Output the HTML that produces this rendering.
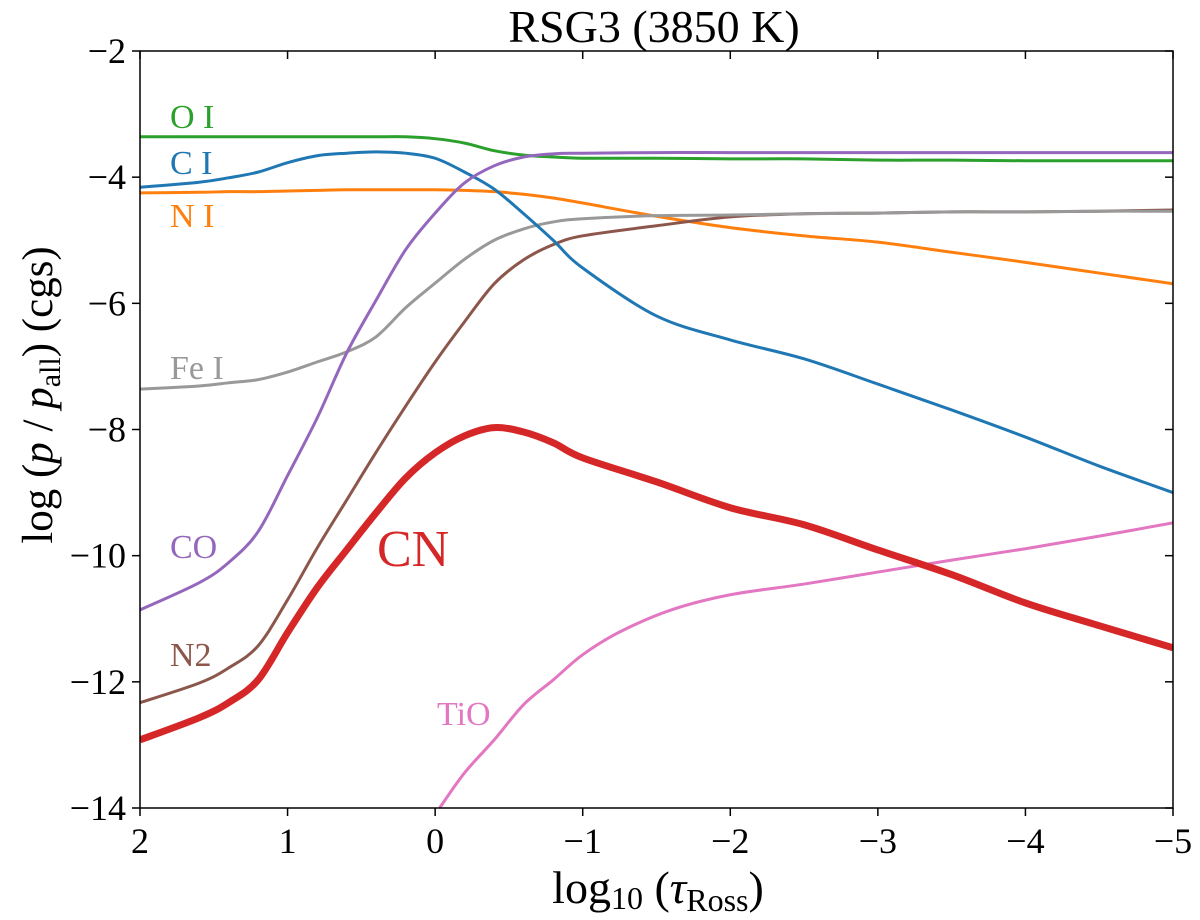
<!DOCTYPE html>
<html><head><meta charset="utf-8">
<style>
body{margin:0;background:#fff;}
svg{display:block;font-family:"Liberation Serif",serif;}
</style></head>
<body>
<svg id="chart" width="1200" height="920">
<text x="654" y="42" font-size="46" text-anchor="middle">RSG3 (3850 K)</text>
<g id="plot"></g>
<text x="658" y="903" font-size="46" text-anchor="middle">log<tspan font-size="32" dy="6">10</tspan><tspan dy="-6"> (</tspan><tspan font-style="italic">τ</tspan><tspan font-size="32" dy="8">Ross</tspan><tspan dy="-8">)</tspan></text>
<text transform="translate(52,395) rotate(-90)" font-size="43" text-anchor="middle">log (<tspan font-style="italic">p</tspan> / <tspan font-style="italic">p</tspan><tspan font-size="30" dy="8">all</tspan><tspan dy="-8">) (cgs)</tspan></text>
</svg>
<script>
const xTicks=[2,1,0,-1,-2,-3,-4,-5];
const yTicks=[-2,-4,-6,-8,-10,-12,-14];
const xs=[2,1.6,1.4,1.2,1,0.8,0.6,0.4,0.2,0,-0.2,-0.4,-0.6,-0.8,-1,-1.5,-2,-2.5,-3,-3.5,-4,-4.5,-5];
const OI=[-3.36,-3.36,-3.36,-3.36,-3.36,-3.36,-3.36,-3.36,-3.36,-3.39,-3.46,-3.58,-3.65,-3.68,-3.7,-3.7,-3.71,-3.71,-3.73,-3.73,-3.74,-3.74,-3.74];
const CI=[-4.16,-4.08,-4.01,-3.92,-3.77,-3.66,-3.62,-3.6,-3.62,-3.7,-3.92,-4.19,-4.58,-5.0,-5.44,-6.2,-6.58,-6.88,-7.28,-7.69,-8.12,-8.58,-9.0];
const NI=[-4.25,-4.24,-4.23,-4.23,-4.22,-4.21,-4.2,-4.2,-4.2,-4.2,-4.21,-4.23,-4.27,-4.33,-4.41,-4.62,-4.8,-4.93,-5.03,-5.19,-5.35,-5.52,-5.69];
const CO=[-10.86,-10.43,-10.11,-9.62,-8.73,-7.82,-6.79,-5.95,-5.15,-4.57,-4.09,-3.82,-3.68,-3.63,-3.62,-3.61,-3.61,-3.61,-3.61,-3.61,-3.61,-3.61,-3.61];
const FeI=[-7.36,-7.31,-7.26,-7.21,-7.09,-6.93,-6.77,-6.53,-6.07,-5.68,-5.3,-5.0,-4.82,-4.71,-4.66,-4.61,-4.6,-4.58,-4.57,-4.55,-4.55,-4.54,-4.54];
const N2=[-12.33,-12.02,-11.78,-11.43,-10.7,-9.88,-9.12,-8.36,-7.63,-6.93,-6.29,-5.69,-5.31,-5.07,-4.93,-4.77,-4.63,-4.58,-4.57,-4.55,-4.55,-4.54,-4.52];
const CN=[-12.92,-12.57,-12.33,-11.97,-11.22,-10.51,-9.91,-9.32,-8.77,-8.37,-8.1,-7.97,-8.04,-8.21,-8.45,-8.83,-9.24,-9.51,-9.91,-10.3,-10.75,-11.11,-11.46];
const TiOx=[-0.03,-0.2,-0.4,-0.6,-0.8,-1,-1.25,-1.6,-2,-2.5,-3,-3.5,-4,-4.5,-5];
const TiO=[-14,-13.44,-12.92,-12.36,-11.97,-11.57,-11.21,-10.86,-10.62,-10.45,-10.26,-10.07,-9.89,-9.69,-9.48];

const L=140,R=1173,T=51,B=808;
const X=v=>L+(2-v)/7*(R-L);
const Y=v=>T+(-2-v)/12*(B-T);
const g=document.getElementById('plot');
const NS='http://www.w3.org/2000/svg';
function mk(t,a){const e=document.createElementNS(NS,t);for(const k in a)e.setAttribute(k,a[k]);g.appendChild(e);return e;}
const cp=mk('clipPath',{id:'cp'});
const cr=document.createElementNS(NS,'rect');cr.setAttribute('x',L);cr.setAttribute('y',T);cr.setAttribute('width',R-L);cr.setAttribute('height',B-T);cp.appendChild(cr);
function pathD(xv,yv){
  const p=xv.map((x,i)=>[X(x),Y(yv[i])]);
  let d='M'+p[0][0]+','+p[0][1];
  for(let i=0;i<p.length-1;i++){
    const p0=p[i-1]||p[i],p1=p[i],p2=p[i+1],p3=p[i+2]||p2;
    const c1x=p1[0]+(p2[0]-p0[0])/6,c1y=p1[1]+(p2[1]-p0[1])/6;
    const c2x=p2[0]-(p3[0]-p1[0])/6,c2y=p2[1]-(p3[1]-p1[1])/6;
    d+=' C'+c1x+','+c1y+' '+c2x+','+c2y+' '+p2[0]+','+p2[1];
  }
  return d;
}
function line(xv,yv,color,w,name){
  const p=mk('path',{d:pathD(xv,yv),fill:'none',stroke:color,'stroke-width':w,'stroke-linejoin':'round','clip-path':'url(#cp)'});
  
  
}
line(xs,OI,'#2ca02c',3,'line-o-i');
line(xs,NI,'#ff7f0e',3,'line-n-i');
line(xs,N2,'#8c564b',3,'line-n2');
line(xs,FeI,'#999999',3,'line-fe-i');
line(xs,CI,'#1f77b4',3,'line-c-i');
line(xs,CO,'#9467bd',3,'line-co');
line(TiOx,TiO,'#e377c2',3,'line-tio');
line(xs,CN,'#d62728',7,'line-cn');
const fr=mk('rect',{x:L,y:T,width:R-L,height:B-T,fill:'none',stroke:'#000','stroke-width':1.5});


xTicks.forEach(v=>{
  mk('line',{x1:X(v),x2:X(v),y1:B,y2:B+8,stroke:'#000','stroke-width':1.5});
  mk('line',{x1:X(v),x2:X(v),y1:T,y2:T+8,stroke:'#000','stroke-width':1.5});
  const t=mk('text',{x:X(v),y:B+45,'font-size':36,'text-anchor':'middle'});
  t.textContent=v<0?'−'+(-v):String(v);
  
  
});
yTicks.forEach(v=>{
  mk('line',{x1:L-8,x2:L,y1:Y(v),y2:Y(v),stroke:'#000','stroke-width':1.5});
  mk('line',{x1:R-8,x2:R,y1:Y(v),y2:Y(v),stroke:'#000','stroke-width':1.5});
  const t=mk('text',{x:L-14,y:Y(v)+12,'font-size':36,'text-anchor':'end'});
  t.textContent='−'+(-v);
  
  
});
const labs=[['O I',170,128,'#2ca02c',34,'label-o-i'],['C I',170,174,'#1f77b4',34,'label-c-i'],['N I',170,227,'#ff7f0e',34,'label-n-i'],['Fe I',170,379,'#999999',34,'label-fe-i'],['CO',170,558,'#9467bd',34,'label-co'],['N2',170,666,'#8c564b',34,'label-n2'],['TiO',437,725,'#e377c2',34,'label-tio'],['CN',377,566,'#d62728',52,'label-cn']];
labs.forEach(a=>{
  const t=mk('text',{x:a[1],y:a[2],fill:a[3],'font-size':a[4]});
  t.textContent=a[0];
  
  
});
</script>
</body></html>
